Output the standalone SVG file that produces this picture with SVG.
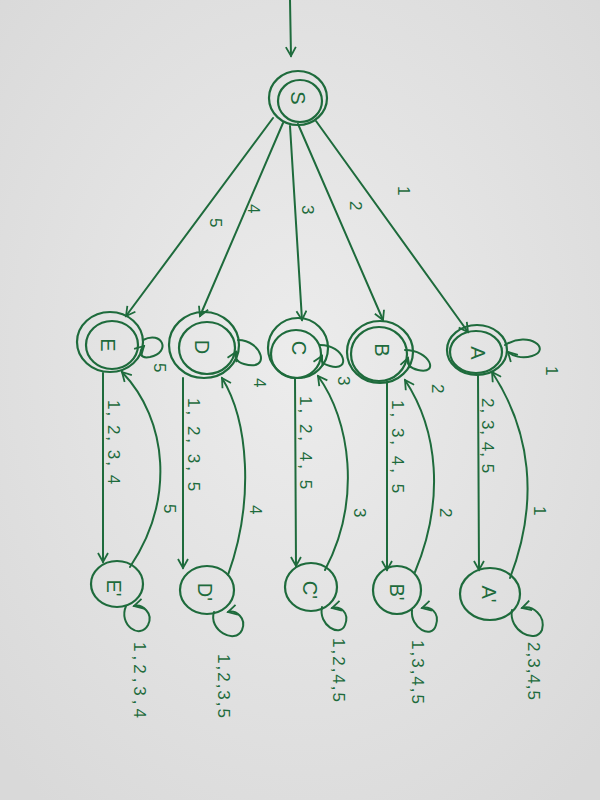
<svg xmlns="http://www.w3.org/2000/svg" width="600" height="800" viewBox="0 0 600 800">
<defs>
<style>
.ln{fill:none;stroke:#1e6b3c;stroke-width:2;stroke-linecap:round;stroke-linejoin:round}
.nd{fill:none;stroke:#1e6b3c;stroke-width:2.2}
.t{font-family:"Liberation Sans",Arial,sans-serif;fill:#1e6b3c;font-size:17px}
.lb{font-family:"Liberation Sans",Arial,sans-serif;fill:#1e6b3c;font-size:20px;text-anchor:middle;dominant-baseline:central}
</style>
<marker id="ah" viewBox="0 0 12 12" refX="10" refY="6" markerWidth="12" markerHeight="12" markerUnits="userSpaceOnUse" orient="auto">
<path d="M1,1 L10,6 L1,11" fill="none" stroke="#1e6b3c" stroke-width="1.8"/>
</marker>
<radialGradient id="bg" cx="50%" cy="45%" r="70%">
<stop offset="0" stop-color="#ececec"/>
<stop offset="1" stop-color="#d9d9d9"/>
</radialGradient>
</defs>
<rect width="600" height="800" fill="url(#bg)"/>
<g id="connectors">
<path class="ln" d="M290,0 L291,56" marker-end="url(#ah)"/>
<path class="ln" d="M273,118 L126,316" marker-end="url(#ah)"/>
<path class="ln" d="M283,123 L200,316" marker-end="url(#ah)"/>
<path class="ln" d="M290,126 L302,320" marker-end="url(#ah)"/>
<path class="ln" d="M298,124 L383,320" marker-end="url(#ah)"/>
<path class="ln" d="M316,121 L468,332" marker-end="url(#ah)"/>
<path class="ln" d="M143,340 C162,330 172,352 150,357 C140,359 138,352 144,346" marker-end="url(#ah)"/>
<path class="ln" d="M238,340 C262,340 272,372 244,364 C236,362 234,356 236,352" marker-end="url(#ah)"/>
<path class="ln" d="M320,345 C345,345 352,372 330,366 C322,364 320,360 322,356" marker-end="url(#ah)"/>
<path class="ln" d="M405,350 C430,350 440,375 418,370 C410,368 406,364 408,358" marker-end="url(#ah)"/>
<path class="ln" d="M505,345 C530,330 552,350 532,356 C522,359 512,356 508,352" marker-end="url(#ah)"/>
<path class="ln" d="M103,373 L103,562" marker-end="url(#ah)"/>
<path class="ln" d="M183,378 L183,568" marker-end="url(#ah)"/>
<path class="ln" d="M295,378 L296,566" marker-end="url(#ah)"/>
<path class="ln" d="M387,382 L387,570" marker-end="url(#ah)"/>
<path class="ln" d="M478,375 L479,570" marker-end="url(#ah)"/>
<path class="ln" d="M130,567 C175,500 168,420 122,372" marker-end="url(#ah)"/>
<path class="ln" d="M228,575 C255,500 248,420 222,378" marker-end="url(#ah)"/>
<path class="ln" d="M325,570 C362,500 350,420 318,376" marker-end="url(#ah)"/>
<path class="ln" d="M415,572 C445,500 438,430 405,380" marker-end="url(#ah)"/>
<path class="ln" d="M510,578 C540,500 530,430 492,372" marker-end="url(#ah)"/>
<path class="ln" d="M126,606 C118,625 140,640 148,625 C154,613 142,604 134,606" marker-end="url(#ah)"/>
<path class="ln" d="M214,612 C208,630 235,645 242,630 C247,618 236,610 228,612" marker-end="url(#ah)"/>
<path class="ln" d="M322,607 C318,625 340,638 345,625 C350,612 340,606 332,608" marker-end="url(#ah)"/>
<path class="ln" d="M412,610 C410,628 432,640 436,625 C440,612 430,606 422,608" marker-end="url(#ah)"/>
<path class="ln" d="M512,610 C508,630 535,645 542,630 C546,615 532,605 522,608" marker-end="url(#ah)"/>
<text class="t" transform="rotate(90 210 218)" x="210" y="218">5</text>
<text class="t" transform="rotate(90 248 204)" x="248" y="204">4</text>
<text class="t" transform="rotate(90 302 205)" x="302" y="205">3</text>
<text class="t" transform="rotate(90 350 201)" x="350" y="201">2</text>
<text class="t" transform="rotate(90 398 186)" x="398" y="186">1</text>
<text class="t" transform="rotate(90 154 363)" x="154" y="363">5</text>
<text class="t" transform="rotate(90 254 378)" x="254" y="378">4</text>
<text class="t" transform="rotate(90 338 376)" x="338" y="376">3</text>
<text class="t" transform="rotate(90 432 384)" x="432" y="384">2</text>
<text class="t" transform="rotate(90 546 366)" x="546" y="366">1</text>
<text class="t" transform="rotate(90 108 400)" x="108" y="400" letter-spacing="2">1, 2, 3, 4</text>
<text class="t" transform="rotate(90 188 398)" x="188" y="398" letter-spacing="3">1, 2, 3, 5</text>
<text class="t" transform="rotate(90 300 396)" x="300" y="396" letter-spacing="3">1, 2, 4, 5</text>
<text class="t" transform="rotate(90 392 400)" x="392" y="400" letter-spacing="3">1, 3, 4, 5</text>
<text class="t" transform="rotate(90 482 398)" x="482" y="398" letter-spacing="1">2, 3, 4, 5</text>
<text class="t" transform="rotate(90 164 504)" x="164" y="504">5</text>
<text class="t" transform="rotate(90 250 505)" x="250" y="505">4</text>
<text class="t" transform="rotate(90 354 508)" x="354" y="508">3</text>
<text class="t" transform="rotate(90 440 508)" x="440" y="508">2</text>
<text class="t" transform="rotate(90 534 506)" x="534" y="506">1</text>
<text class="t" transform="rotate(90 134 642)" x="134" y="642" letter-spacing="4">1,2,3,4</text>
<text class="t" transform="rotate(90 218 654)" x="218" y="654" letter-spacing="2">1,2,3,5</text>
<text class="t" transform="rotate(90 333 638)" x="333" y="638" letter-spacing="2">1,2,4,5</text>
<text class="t" transform="rotate(90 412 640)" x="412" y="640" letter-spacing="2">1,3,4,5</text>
<text class="t" transform="rotate(90 528 642)" x="528" y="642" letter-spacing="1">2,3,4,5</text>
</g>
<g id="S">
<ellipse class="nd" cx="298" cy="98" rx="29" ry="27"/>
<ellipse class="nd" cx="300" cy="101" rx="22" ry="21"/>
<text class="lb" transform="rotate(90 298 98)" x="298" y="98">S</text>
</g>
<g id="E">
<ellipse class="nd" cx="110" cy="342" rx="33" ry="30"/>
<ellipse class="nd" cx="112" cy="345" rx="26" ry="24"/>
<text class="lb" transform="rotate(90 108 345)" x="108" y="345">E</text>
</g>
<g id="D">
<ellipse class="nd" cx="204" cy="345" rx="35" ry="33"/>
<ellipse class="nd" cx="207" cy="348" rx="28" ry="26"/>
<text class="lb" transform="rotate(90 202 347)" x="202" y="347">D</text>
</g>
<g id="C">
<ellipse class="nd" cx="298" cy="348" rx="30" ry="30"/>
<ellipse class="nd" cx="296" cy="354" rx="25" ry="24"/>
<text class="lb" transform="rotate(90 299 348)" x="299" y="348">C</text>
</g>
<g id="B">
<ellipse class="nd" cx="380" cy="352" rx="33" ry="31"/>
<ellipse class="nd" cx="379" cy="354" rx="28" ry="27"/>
<text class="lb" transform="rotate(90 382 350)" x="382" y="350">B</text>
</g>
<g id="A">
<ellipse class="nd" cx="477" cy="350" rx="30" ry="25"/>
<ellipse class="nd" cx="476" cy="352" rx="26" ry="21"/>
<text class="lb" transform="rotate(90 478 353)" x="478" y="353">A</text>
</g>
<g id="E_">
<ellipse class="nd" cx="117" cy="584" rx="26" ry="23"/>
<text class="lb" transform="rotate(90 114 588)" x="114" y="588">E'</text>
</g>
<g id="D_">
<ellipse class="nd" cx="207" cy="590" rx="27" ry="24"/>
<text class="lb" transform="rotate(90 205 592)" x="205" y="592">D'</text>
</g>
<g id="C_">
<ellipse class="nd" cx="311" cy="587" rx="26" ry="24"/>
<text class="lb" transform="rotate(90 310 590)" x="310" y="590">C'</text>
</g>
<g id="B_">
<ellipse class="nd" cx="397" cy="590" rx="24" ry="24"/>
<text class="lb" transform="rotate(90 397 592)" x="397" y="592">B'</text>
</g>
<g id="A_">
<ellipse class="nd" cx="490" cy="594" rx="30" ry="26"/>
<text class="lb" transform="rotate(90 489 594)" x="489" y="594">A'</text>
</g>
</svg>
